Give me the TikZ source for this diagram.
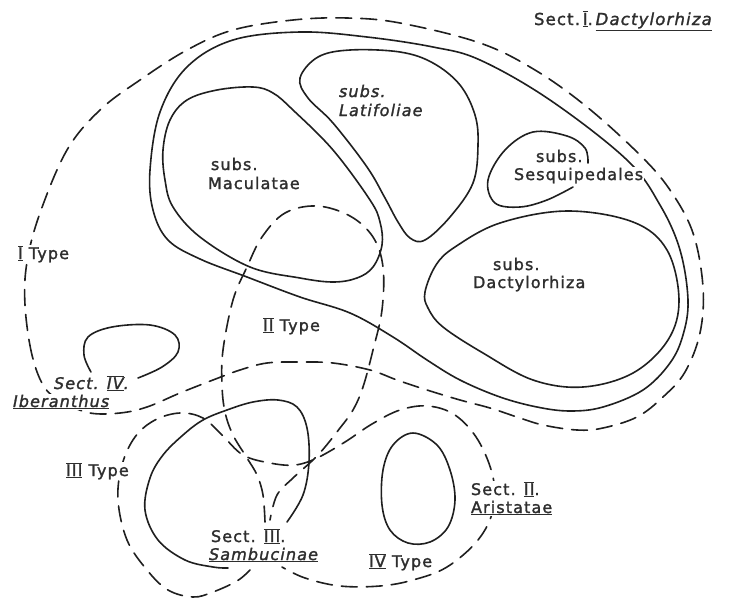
\documentclass[tikz,border=0pt]{standalone}
\usepackage{fontspec}
\setmainfont{DejaVu Sans}[LetterSpace=7, FakeBold=1.6]
% Roman numeral with bars above and below
\newcommand\rnum[1]{$\underline{\overline{\mbox{#1}}}$}
\begin{document}
\begin{tikzpicture}[x=1pt,y=-1pt,
  ink/.style={draw=black!88, line width=1.6pt, line cap=round, line join=round},
  solidline/.style={ink},
  dashline/.style={ink, dash pattern=on 16pt off 9pt},
  lbl/.style={anchor=base west, inner sep=0.8pt, fill=white, text=black!82,
              font=\fontsize{16}{19}\selectfont},
  hdr/.style={lbl, font=\fontsize{16.5}{19}\selectfont},
]
\useasboundingbox (0,0) rectangle (734,598);
\fill[white] (0,0) rectangle (734,598);

% Section I (Dactylorhiza), dashed outline
\draw[dashline] plot[smooth cycle, tension=0.6] coordinates {
  (45,388) (32,355) (25,305) (27,262) (40,213) (67,150) (100,110) (140,80)
  (187,50) (233,30) (293,20) (347,18) (400,23) (480,43) (535,70) (587,107)
  (640,155) (670,190) (693,233) (703,287) (700,333) (685,372) (663,397)
  (637,417) (603,428) (577,430) (543,425) (517,417) (490,408) (460,400)
  (427,390) (397,380) (370,370) (333,363) (300,362) (267,363) (240,370)
  (213,380) (180,393) (147,407) (120,413) (90,413) (65,403)};

% Section I, solid outline
\draw[solidline] plot[smooth cycle, tension=0.6] coordinates {
  (150,170) (160,112) (187,67) (233,40) (300,32) (367,37) (433,47) (480,60)
  (550,100) (627,160) (660,205) (680,250) (688,300) (683,335) (670,363)
  (643,390) (603,407) (570,411) (537,407) (500,397) (460,380) (427,360)
  (393,337) (350,313) (300,297) (247,277) (200,259) (168,240) (153,210)};

% subs. Maculatae
\draw[solidline] plot[smooth cycle, tension=0.6] coordinates {
  (253,87) (273,93) (293,110) (333,150) (370,200) (380,222) (382,245)
  (373,267) (357,278) (333,282) (300,278) (250,267) (200,237) (173,207)
  (165,180) (163,150) (170,120) (187,100) (217,90)};

% subs. Latifoliae
\draw[solidline] plot[smooth cycle, tension=0.6] coordinates {
  (300,78) (318,57) (350,50) (400,52) (433,63) (460,85) (475,115) (478,145)
  (473,183) (450,217) (425,240) (410,238) (398,222) (385,198) (367,167)
  (333,123) (308,98)};

% subs. Sesquipedales
\draw[solidline] plot[smooth, tension=0.6] coordinates {
  (588,163) (585,148) (567,136) (533,132) (505,150) (488,180) (495,203)
  (520,207) (547,200) (573,187)};

% subs. Dactylorhiza
\draw[solidline] plot[smooth cycle, tension=0.6] coordinates {
  (425,292) (436,265) (455,247) (500,223) (567,211) (633,222) (667,250)
  (679,300) (668,340) (633,373) (583,387) (533,380) (483,353) (443,327)
  (428,308)};

% Sect. IV Iberanthus
\draw[solidline] plot[smooth, tension=0.6] coordinates {
  (91,372) (84,355) (88,337) (112,327) (150,325) (175,335) (178,352)
  (162,367) (138,378)};

% II Type
\draw[dashline] plot[smooth, tension=0.6] coordinates {
  (265,522) (263,495) (257,475) (247,458) (233,435) (225,412) (222,385)
  (223,350) (233,300) (247,267) (262,237) (285,213) (317,206) (350,216)
  (373,237) (383,267) (382,310) (373,350) (363,387) (353,410) (340,428)
  (318,455) (293,478) (277,495) (270,520)};

% Sect. III Sambucinae
\draw[solidline] plot[smooth, tension=0.6] coordinates {
  (287,522) (303,495) (309,462) (307,428) (297,407) (278,400) (253,402)
  (227,410) (203,420) (183,435) (163,455) (150,478) (145,510) (158,540)
  (185,560) (213,567) (228,568)};

% III Type and IV Type
\draw[dashline] plot[smooth, tension=0.6] coordinates {
  (250,570) (237,581) (213,592) (193,597) (168,590) (147,570) (127,540)
  (118,500) (122,465) (135,437) (155,420) (180,413) (203,418) (222,435)
  (243,455) (270,463) (295,465) (317,458) (345,442) (372,424) (400,410)
  (428,406) (455,415) (478,440) (493,477) (493,510) (478,540) (447,567)
  (413,580) (380,586) (340,586) (305,578) (282,567)};

% Sect. II Aristatae
\draw[solidline] plot[smooth cycle, tension=0.6] coordinates {
  (413,433) (437,445) (450,470) (455,500) (448,527) (430,542) (408,543)
  (390,530) (382,505) (383,470) (393,445)};

% Labels
\node[hdr] (hdr) at (533,25) {Sect.\,\rnum{I}.\,\underline{\itshape Dactylorhiza}};
\node[lbl] (lat1) at (338,97) {\itshape subs.};
\node[lbl] (lat2) at (338,116) {\itshape Latifoliae};
\node[lbl] (mac1) at (210,170) {subs.};
\node[lbl] (mac2) at (207,189) {Maculatae};
\node[lbl] (ses1) at (535,162) {subs.};
\node[lbl] (ses2) at (513,180) {Sesquipedales};
\node[lbl] (dac1) at (492,270) {subs.};
\node[lbl] (dac2) at (472,288) {Dactylorhiza};
\node[lbl] (t1) at (17,259) {\rnum{I} Type};
\node[lbl] (t2) at (262,331) {\rnum{II} Type};
\node[lbl] (ib1) at (53,389) {\itshape Sect. \rnum{IV}.};
\node[lbl] (ib2) at (12,407) {\underline{\itshape Iberanthus}};
\node[lbl] (t3) at (65,476) {\rnum{III} Type};
\node[lbl] (sb1) at (210,542) {Sect. \rnum{III}.};
\node[lbl] (sb2) at (208,560) {\underline{\itshape Sambucinae}};
\node[lbl] (ar1) at (470,495) {Sect. \rnum{II}.};
\node[lbl] (ar2) at (470,513) {\underline{Aristatae}};
\node[lbl] (t4) at (368,567) {\rnum{IV} Type};
\end{tikzpicture}
\end{document}
